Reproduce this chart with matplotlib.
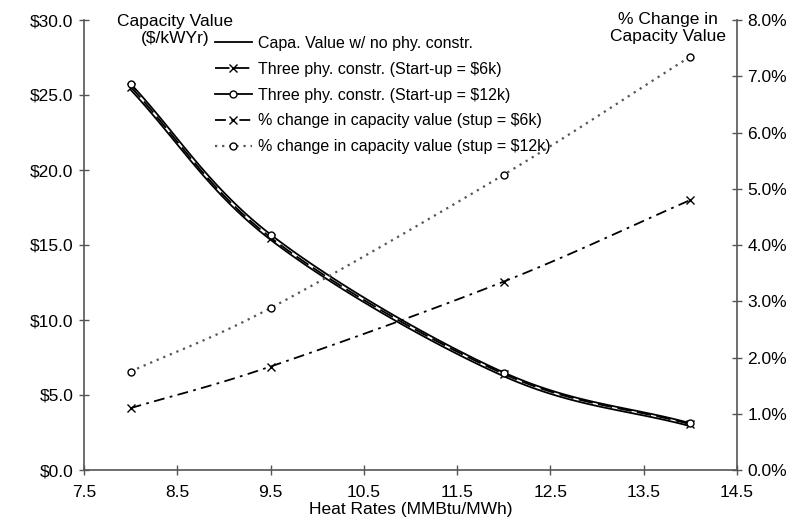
import numpy as np
import matplotlib
matplotlib.use("Agg")
import matplotlib.pyplot as plt
from matplotlib.ticker import FuncFormatter

plt.rcParams["font.family"] = ["Liberation Sans", "DejaVu Sans"]
plt.rcParams["font.size"] = 12.5

heat_rates = [8.0, 9.5, 12.0, 14.0]
cap_base = [25.35, 15.35, 6.25, 2.92]
cap_6k = [25.55, 15.5, 6.4, 3.05]
cap_12k = [25.75, 15.7, 6.5, 3.12]
pct_6k = [1.1, 1.84, 3.35, 4.8]
pct_12k = [1.75, 2.88, 5.25, 7.35]

labels = [
    "Capa. Value w/ no phy. constr.",
    "Three phy. constr. (Start-up = $6k)",
    "Three phy. constr. (Start-up = $12k)",
    "% change in capacity value (stup = $6k)",
    "% change in capacity value (stup = $12k)",
]


def smooth(x, y, n=30):
    # catmull-rom through the points, like excel's smoothed lines
    x = np.asarray(x, float)
    y = np.asarray(y, float)
    px = np.concatenate([[2 * x[0] - x[1]], x, [2 * x[-1] - x[-2]]])
    py = np.concatenate([[2 * y[0] - y[1]], y, [2 * y[-1] - y[-2]]])
    xs, ys = [], []
    for i in range(1, len(px) - 2):
        t = np.linspace(0, 1, n, endpoint=False)
        for p, out in ((px, xs), (py, ys)):
            p0, p1, p2, p3 = p[i - 1], p[i], p[i + 1], p[i + 2]
            out.extend(0.5 * (2 * p1 + (-p0 + p2) * t
                              + (2 * p0 - 5 * p1 + 4 * p2 - p3) * t ** 2
                              + (-p0 + 3 * p1 - 3 * p2 + p3) * t ** 3))
    xs.append(x[-1])
    ys.append(y[-1])
    marks = list(range(0, len(xs), n))
    return np.array(xs), np.array(ys), marks


fig = plt.figure(figsize=(8.02, 5.24), dpi=100)
ax = fig.add_axes([84 / 802, 54 / 524, 653 / 802, 450 / 524])
ax2 = ax.twinx()

handles = []
sx, sy, mk = smooth(heat_rates, cap_base)
handles += ax.plot(sx, sy, color="black", lw=1.3, label=labels[0])
sx, sy, mk = smooth(heat_rates, cap_6k)
handles += ax.plot(sx, sy, color="black", lw=1.3, ls=(0, (8, 3)), marker="x",
                   ms=6, markevery=mk, label=labels[1])
sx, sy, mk = smooth(heat_rates, cap_12k)
handles += ax.plot(sx, sy, color="black", lw=1.3, marker="o", ms=5, mfc="white",
                   markevery=mk, label=labels[2])
sx, sy, mk = smooth(heat_rates, pct_6k)
handles += ax2.plot(sx, sy, color="black", lw=1.3, ls=(0, (6, 3, 1.5, 3)), marker="x",
                    ms=6, markevery=mk, label=labels[3])
sx, sy, mk = smooth(heat_rates, pct_12k)
handles += ax2.plot(sx, sy, color="#555555", lw=1.6, ls=(0, (1, 2.2)), marker="o", ms=5,
                    mfc="white", mec="black", markevery=mk, label=labels[4])

ax.set_xlim(7.5, 14.5)
ax.set_ylim(0, 30)
ax2.set_ylim(0, 8)
ax.set_xticks(np.arange(7.5, 14.6, 1.0))
ax.set_yticks(np.arange(0, 31, 5))
ax2.set_yticks(np.arange(0, 8.1, 1))
ax.yaxis.set_major_formatter(FuncFormatter(lambda v, p: f"${v:.1f}"))
ax2.yaxis.set_major_formatter(FuncFormatter(lambda v, p: f"{v:.1f}%"))

for a in (ax, ax2):
    a.spines["top"].set_visible(False)
    for s in a.spines.values():
        s.set_color("#555555")
        s.set_linewidth(1.2)
    a.tick_params(direction="inout", length=7, width=1, color="#555555", pad=4)
ax.tick_params(axis="x", pad=7)
ax.spines["right"].set_visible(False)
ax2.spines["left"].set_visible(False)
ax2.spines["bottom"].set_visible(False)

ax.set_xlabel("Heat Rates (MMBtu/MWh)", labelpad=2)
fig.text(175 / 802, 1 - 30 / 524, "Capacity Value\n($/kWYr)", ha="center", va="center",
         linespacing=1.2)
fig.text(668 / 802, 1 - 28 / 524, "% Change in\nCapacity Value", ha="center", va="center",
         linespacing=1.2)

ax.legend(handles=handles, loc="upper left", bbox_to_anchor=(210 / 802, 1 - 31 / 524),
          bbox_transform=fig.transFigure, frameon=False, fontsize=11.5,
          handlelength=2.3, handletextpad=0.4, labelspacing=0.68, borderaxespad=0,
          borderpad=0.3)

fig.savefig("out.png", dpi=100)
